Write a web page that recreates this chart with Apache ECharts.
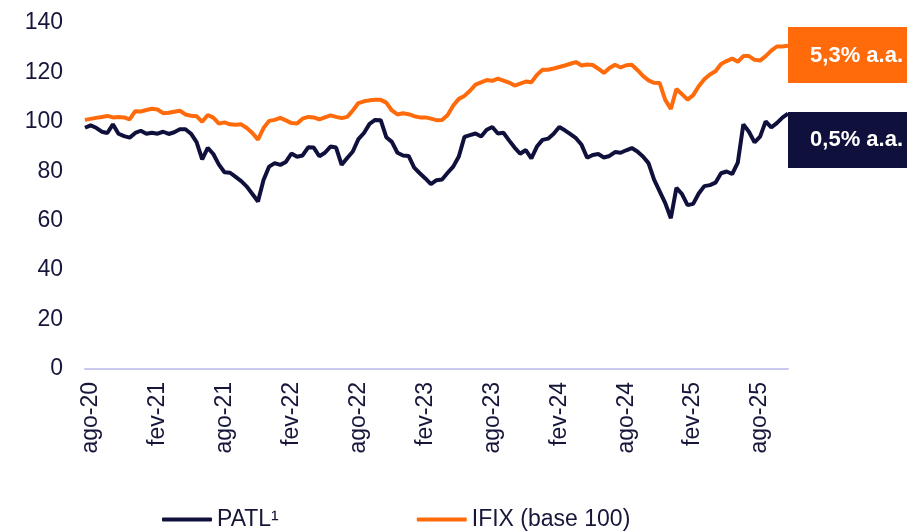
<!DOCTYPE html>
<html>
<head>
<meta charset="utf-8">
<title>PATL x IFIX</title>
<script src="https://cdn.jsdelivr.net/npm/echarts@6/dist/echarts.min.js"></script>
<style>
	html, body { margin: 0; padding: 0; background: #fff; }
	#chart { width: 907px; height: 531px; }
</style>
</head>
<body>
<div id="chart"></div>
<script>
	// rótulos do eixo x (um a cada 6 meses)
	const tickLabels = ['ago-20', 'fev-21', 'ago-21', 'fev-22', 'ago-22', 'fev-23', 'ago-23', 'fev-24', 'ago-24', 'fev-25', 'ago-25'];
	const seriesNames = ['PATL¹', 'IFIX (base 100)'];
	const boxLabels = ['5,3% a.a.', '0,5% a.a.'];

	// pontos quinzenais, de meados de jul-20 até out-25
	const patl = [
		97.6, 98.6, 97.6, 96.0, 95.5, 99.0, 95.2, 94.2, 93.6, 95.5,
		96.4, 95.2, 95.6, 95.2, 96.0, 95.1, 95.8, 97.0, 97.0, 95.2,
		91.8, 84.8, 89.5, 87.0, 82.7, 79.6, 79.4, 77.7, 76.0, 73.8,
		70.8, 67.8, 76.5, 81.9, 83.3, 82.6, 83.8, 87.2, 85.9, 86.4,
		89.7, 89.6, 86.1, 87.5, 90.0, 89.6, 82.6, 85.4, 88.0, 93.0,
		95.5, 99.2, 100.8, 100.7, 93.8, 91.9, 87.5, 86.4, 86.2, 81.5,
		79.2, 77.1, 74.8, 76.4, 76.7, 79.4, 81.9, 86.0, 93.9, 94.6,
		95.3, 94.1, 96.8, 97.9, 95.3, 95.6, 92.5, 89.6, 87.1, 88.6,
		85.2, 90.0, 92.7, 93.2, 95.2, 97.9, 96.6, 95.0, 93.4, 90.7,
		85.5, 86.6, 87.0, 85.6, 86.2, 87.8, 87.5, 88.5, 89.4, 88.0,
		86.0, 83.3, 76.6, 71.9, 67.1, 61.0, 73.3, 70.8, 66.3, 66.8,
		71.0, 74.0, 74.4, 75.4, 79.2, 79.9, 78.9, 83.5, 99.0, 96.0,
		91.7, 94.0, 100.2, 97.8, 99.5, 101.7, 103.3
	];
	const ifix = [
		100.8, 101.2, 101.6, 102.0, 102.4, 101.8, 102.0, 101.8, 101.0, 104.3,
		104.2, 104.8, 105.3, 105.0, 103.5, 103.7, 104.1, 104.5, 103.0, 102.5,
		102.3, 100.0, 102.8, 101.7, 99.3, 99.8, 99.0, 98.8, 99.0, 97.5,
		95.5, 92.8, 97.5, 100.4, 100.8, 101.6, 100.6, 99.5, 99.3, 101.3,
		102.0, 101.8, 101.0, 101.8, 102.6, 102.0, 101.5, 102.0, 104.6, 107.6,
		108.3, 108.7, 108.9, 108.9, 107.8, 104.6, 103.0, 103.5, 103.1, 102.3,
		101.8, 101.8, 101.3, 100.7, 100.8, 102.8, 106.6, 109.3, 110.5, 112.6,
		115.1, 116.0, 116.9, 116.6, 117.5, 116.7, 115.9, 114.7, 115.5, 116.3,
		116.0, 119.0, 121.1, 121.1, 121.6, 122.2, 122.8, 123.5, 124.2, 122.8,
		123.2, 123.0, 121.5, 119.8, 121.8, 123.1, 122.0, 122.9, 123.1, 121.0,
		118.6, 116.8, 115.8, 115.7, 108.9, 105.2, 113.3, 111.2, 109.0, 110.8,
		114.4, 117.2, 119.2, 120.5, 123.4, 124.6, 125.6, 124.3, 126.6, 126.6,
		125.1, 124.8, 126.6, 128.8, 130.5, 130.5, 130.8
	];

	// datas das quinzenas: pares = dia 16, ímpares = dia 01 do mês seguinte (índice 1 = 2020-08-01)
	const dates = [];
	for (let i = 0; i < patl.length; i++) {
		const m = i % 2 === 0 ? 6 + i / 2 : 7 + (i - 1) / 2;
		const y = 2020 + Math.floor(m / 12);
		dates.push(y + '-' + String(m % 12 + 1).padStart(2, '0') + (i % 2 === 0 ? '-16' : '-01'));
	}

	const navy = '#10103C';
	const orange = '#FF6B0A';
	const textColor = '#16163A';
	const font = 'Liberation Sans';

	const chart = echarts.init(document.getElementById('chart'));
	const option = {
		animation: false,
		grid: { left: 85, right: 119, top: 23, bottom: 162 },
		legend: {
			data: seriesNames,
			left: 162,
			top: 508,
			padding: 0,
			itemWidth: 50,
			itemHeight: 4,
			itemGap: 138,
			icon: 'roundRect',
			textStyle: { color: textColor, fontSize: 23, fontFamily: font }
		},
		xAxis: {
			type: 'category',
			data: dates,
			boundaryGap: false,
			axisLine: { lineStyle: { color: '#C9C9EE', width: 2 } },
			axisTick: { show: false },
			axisLabel: {
				rotate: 90,
				margin: 13,
				color: textColor,
				fontSize: 23,
				fontFamily: font,
				interval: (idx) => idx % 12 === 1,
				formatter: (val, idx) => tickLabels[(idx - 1) / 12] || ''
			},
			splitLine: { show: false }
		},
		yAxis: {
			type: 'value',
			min: 0,
			max: 140,
			interval: 20,
			axisLine: { show: false },
			axisTick: { show: false },
			splitLine: { show: false },
			axisLabel: { color: textColor, fontSize: 23, fontFamily: font, margin: 22 }
		},
		series: [
			{
				name: seriesNames[0],
				type: 'line',
				data: patl,
				symbol: 'none',
				lineStyle: { color: navy, width: 4 },
				itemStyle: { color: navy },
				z: 3
			},
			{
				name: seriesNames[1],
				type: 'line',
				data: ifix,
				symbol: 'none',
				lineStyle: { color: orange, width: 4 },
				itemStyle: { color: orange },
				z: 2
			}
		],
		graphic: [
			{ type: 'rect', left: 788, top: 27, shape: { width: 119, height: 56 }, style: { fill: orange } },
			{ type: 'text', x: 903, y: 56, style: { text: boxLabels[0], fill: '#fff', font: 'bold 22px "Liberation Sans"', align: 'right', verticalAlign: 'middle' } },
			{ type: 'rect', left: 788, top: 112, shape: { width: 119, height: 56 }, style: { fill: navy } },
			{ type: 'text', x: 903, y: 140, style: { text: boxLabels[1], fill: '#fff', font: 'bold 22px "Liberation Sans"', align: 'right', verticalAlign: 'middle' } }
		]
	};
	chart.setOption(option);
</script>
</body>
</html>
